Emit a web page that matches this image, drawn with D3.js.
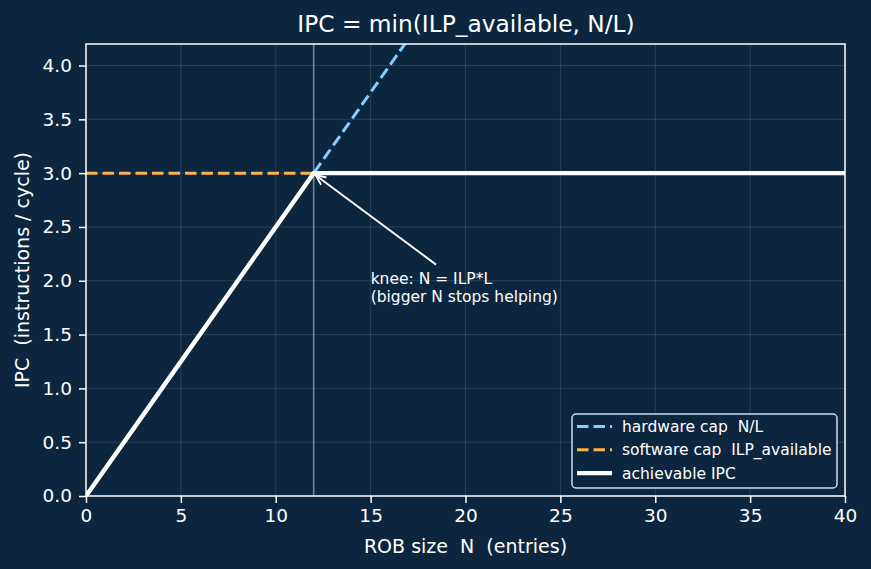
<!DOCTYPE html>
<html>
<head>
<meta charset="utf-8">
<script src="https://cdn.jsdelivr.net/npm/d3@7"></script>
<style>
  body { margin: 0; background: #0c2640; }
  svg { display: block; font-family: "DejaVu Sans", sans-serif; }
  svg text { white-space: pre; font-family: "DejaVu Sans", sans-serif; }
</style>
</head>
<body>
<svg id="chart" width="871" height="569"></svg>
<script>
/* model parameters */
var ilp_available = 3.0;
var latency = 4;

/* sample points along the ROB size axis */
var rob_sizes = [0, 4, 8, 12, 16, 20, 24, 28, 32, 36, 40];
var x_ticks = [0, 5, 10, 15, 20, 25, 30, 35, 40];
var y_ticks = [0.0, 0.5, 1.0, 1.5, 2.0, 2.5, 3.0, 3.5, 4.0];
var knee_n = ilp_available * latency;

var series_names = ["hardware cap  N/L", "software cap  ILP_available", "achievable IPC"];

var svg = d3.select("#chart");
var margin = {top: 44, right: 26, bottom: 73, left: 86},
    width = 871 - margin.left - margin.right,
    height = 569 - margin.top - margin.bottom;

var x = d3.scaleLinear().domain([0, 40]).range([0, width]);
var y = d3.scaleLinear().domain([0, 4.2]).range([height, 0]);

svg.append("defs").append("clipPath").attr("id", "clip")
  .append("rect").attr("width", width).attr("height", height);

var g = svg.append("g").attr("transform", "translate(" + margin.left + "," + margin.top + ")");

/* grid */
g.selectAll(".gx").data(x_ticks).enter().append("line")
  .attr("x1", function(d) { return x(d); }).attr("x2", function(d) { return x(d); })
  .attr("y1", 0).attr("y2", height)
  .attr("stroke", "#ffffff").attr("stroke-opacity", 0.12).attr("stroke-width", 1);
g.selectAll(".gy").data(y_ticks).enter().append("line")
  .attr("y1", function(d) { return y(d); }).attr("y2", function(d) { return y(d); })
  .attr("x1", 0).attr("x2", width)
  .attr("stroke", "#ffffff").attr("stroke-opacity", 0.12).attr("stroke-width", 1);

/* knee marker */
g.append("line")
  .attr("x1", x(knee_n)).attr("x2", x(knee_n)).attr("y1", 0).attr("y2", height)
  .attr("stroke", "#b8c4d0").attr("stroke-opacity", 0.6).attr("stroke-width", 1.6);

var lines = g.append("g").attr("clip-path", "url(#clip)");
var line = d3.line().x(function(d) { return x(d[0]); }).y(function(d) { return y(d[1]); });

lines.append("path")
  .datum(rob_sizes.map(function(n) { return [n, n / latency]; }))
  .attr("d", line).attr("fill", "none")
  .attr("stroke", "#7fd0ff").attr("stroke-width", 3).attr("stroke-dasharray", "11.5,5");

lines.append("path")
  .datum(rob_sizes.map(function(n) { return [n, ilp_available]; }))
  .attr("d", line).attr("fill", "none")
  .attr("stroke", "#ffb347").attr("stroke-width", 3).attr("stroke-dasharray", "11.5,5");

lines.append("path")
  .datum(rob_sizes.map(function(n) { return [n, Math.min(ilp_available, n / latency)]; }))
  .attr("d", line).attr("fill", "none")
  .attr("stroke", "#ffffff").attr("stroke-width", 4.4);

/* axes */
var xAxis = g.append("g").attr("transform", "translate(0," + height + ")")
  .call(d3.axisBottom(x).tickValues(x_ticks).tickSize(7).tickPadding(6).tickFormat(d3.format("d")));
var yAxis = g.append("g")
  .call(d3.axisLeft(y).tickValues(y_ticks).tickSize(7).tickPadding(7).tickFormat(d3.format(".1f")));
[xAxis, yAxis].forEach(function(a) {
  a.select(".domain").remove();
  a.selectAll("line").attr("stroke", "#ffffff").attr("stroke-width", 1.5);
  a.selectAll("text").attr("fill", "#ffffff").style("font-size", "18.5px");
});
g.append("rect").attr("width", width).attr("height", height)
  .attr("fill", "none").attr("stroke", "#ffffff").attr("stroke-width", 1.5);

/* annotation */
svg.append("defs").append("marker")
  .attr("id", "arrow").attr("viewBox", "0 0 12 12").attr("refX", 11).attr("refY", 6)
  .attr("markerUnits", "userSpaceOnUse").attr("markerWidth", 12).attr("markerHeight", 12).attr("orient", "auto")
  .append("path").attr("d", "M1,1.5 L11,6 L1,10.5").attr("fill", "none").attr("stroke", "#ffffff").attr("stroke-width", 1.8);
g.append("line")
  .attr("x1", x(18.45)).attr("y1", y(2.15))
  .attr("x2", x(knee_n) + 2).attr("y2", y(ilp_available) + 2)
  .attr("stroke", "#ffffff").attr("stroke-width", 1.9).attr("marker-end", "url(#arrow)");
var ann = g.append("text").attr("fill", "#ffffff").style("font-size", "15.5px");
ann.append("tspan").attr("x", x(15)).attr("y", y(1.8) - 18).text("knee: N = ILP*L");
ann.append("tspan").attr("x", x(15)).attr("y", y(1.8)).text("(bigger N stops helping)");

/* labels */
svg.append("text").attr("x", margin.left + width / 2 + 0.5).attr("y", 32)
  .attr("text-anchor", "middle").attr("fill", "#ffffff").style("font-size", "23.3px")
  .text("IPC = min(ILP_available, N/L)");
svg.append("text").attr("x", margin.left + width / 2).attr("y", 553)
  .attr("text-anchor", "middle").attr("fill", "#ffffff").style("font-size", "19px")
  .text("ROB size  N  (entries)");
svg.append("text").attr("transform", "translate(29," + (margin.top + height / 2) + ") rotate(-90)")
  .attr("text-anchor", "middle").attr("fill", "#ffffff").style("font-size", "19px")
  .text("IPC  (instructions / cycle)");

/* legend */
var lg = g.append("g").attr("transform", "translate(" + (width - 273) + "," + (height - 82) + ")");
lg.append("rect").attr("width", 265).attr("height", 74).attr("rx", 4)
  .attr("fill", "#0c2640").attr("stroke", "#d0dce8").attr("stroke-width", 1.5);
var leg_style = [
  {color: "#7fd0ff", dash: "11.5,5", w: 3},
  {color: "#ffb347", dash: "11.5,5", w: 3},
  {color: "#ffffff", dash: null, w: 4.4}
];
series_names.forEach(function(name, i) {
  var yy = 12.5 + i * 23.3;
  lg.append("line").attr("x1", 5).attr("x2", 40).attr("y1", yy).attr("y2", yy)
    .attr("stroke", leg_style[i].color).attr("stroke-width", leg_style[i].w)
    .attr("stroke-dasharray", leg_style[i].dash);
  lg.append("text").attr("x", 50).attr("y", yy + 5.5).attr("fill", "#ffffff")
    .style("font-size", "15.5px").text(name);
});
</script>
</body>
</html>
